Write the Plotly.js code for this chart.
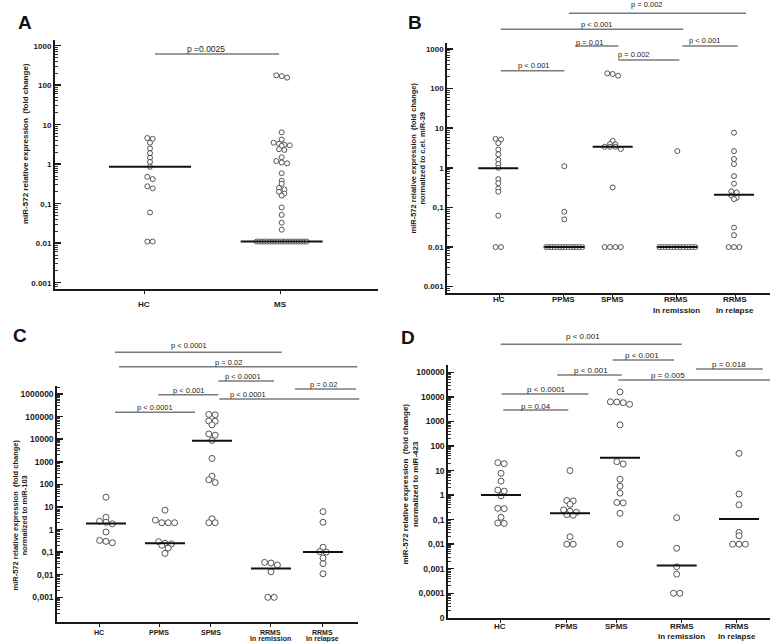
<!DOCTYPE html>
<html>
<head>
<meta charset="utf-8">
<script src="https://cdn.plot.ly/plotly-3.0.1.min.js"></script>
<style>
  html, body { margin: 0; padding: 0; background: #fff; }
  #chart { width: 778px; height: 642px; }
</style>
</head>
<body>
<div id="chart"></div>
<script>
// ---- data ----
const groupsA = ['HC', 'MS'];
const groups5 = ['HC', 'PPMS', 'SPMS', 'RRMS<br>In remission', 'RRMS<br>In relapse'];

const ticksAB = [1000, 100, 10, 1, 0.1, 0.01, 0.001];
const tickTextAB = ['1000', '100', '10', '1', '0,1', '0.01', '0.001'];
const ticksC = [1000000, 100000, 10000, 1000, 100, 10, 1, 0.1, 0.01, 0.001];
const tickTextC = ['1000000', '100000', '10000', '1000', '100', '10', '1', '0,1', '0,01', '0,001'];
const ticksD = [100000, 10000, 1000, 100, 10, 1, 0.1, 0.01, 0.001, 0.0001, 0.00001];
const tickTextD = ['100000', '10000', '1000', '100', '10', '1', '0,1', '0,01', '0,001', '0,0001', '0'];

// panel A
const A_HC = [4.6, 4.4, 3.5, 2.5, 1.9, 1.45, 1.14, 0.86, 0.48, 0.42, 0.275, 0.245, 0.06, 0.011, 0.011];
const A_MS = [178, 170, 155, 6.4, 4.2, 3.5, 3.3, 3.1, 3.0, 2.9, 2.4, 2.3, 1.5, 1.2, 1.1, 1.05,
  0.59, 0.38, 0.32, 0.25, 0.23, 0.2, 0.18, 0.16, 0.08, 0.052, 0.033, 0.022,
  0.011, 0.011, 0.011, 0.011, 0.011, 0.011, 0.011, 0.011, 0.011, 0.011,
  0.011, 0.011, 0.011, 0.011, 0.011, 0.011, 0.011, 0.011, 0.011, 0.011];
const mediansA = [0.86, 0.011];
const pA = ['p =0.0025'];

// panel B
const B_HC = [5.4, 5.2, 4.2, 2.9, 2.2, 1.6, 1.25, 1.0, 0.52, 0.41, 0.3, 0.25, 0.062, 0.01, 0.01];
const B_PPMS = [1.1, 0.078, 0.05, 0.01, 0.01, 0.01, 0.01, 0.01, 0.01, 0.01, 0.01, 0.01, 0.01, 0.01, 0.01, 0.01, 0.01];
const B_SPMS = [243, 234, 212, 4.8, 4.0, 3.9, 3.4, 3.4, 3.4, 3.0, 0.32, 0.01, 0.01, 0.01, 0.01];
const B_REM = [2.65, 0.01, 0.01, 0.01, 0.01, 0.01, 0.01, 0.01, 0.01, 0.01, 0.01, 0.01, 0.01, 0.01];
const B_REL = [7.7, 2.65, 1.67, 1.25, 0.62, 0.4, 0.255, 0.24, 0.2, 0.175, 0.163, 0.031, 0.02, 0.01, 0.01, 0.01];
const mediansB = [0.97, 0.01, 3.4, 0.01, 0.21];
const pB = ['p = 0.002', 'p < 0.001', 'p = 0.01', 'p < 0.001', 'p = 0.002', 'p < 0.001'];

// panel C
const C_HC = [27, 3.5, 2.3, 2.1, 1.8, 0.78, 0.33, 0.3, 0.26];
const C_PPMS = [7.2, 2.6, 2.0, 2.0, 2.0, 0.29, 0.245, 0.23, 0.2, 0.15, 0.088];
const C_SPMS = [125000, 120000, 64000, 62000, 43000, 17000, 15000, 8800, 1400, 230, 160, 120, 3.0, 2.0, 2.0];
const C_REM = [0.035, 0.033, 0.027, 0.0135, 0.001, 0.001];
const C_REL = [6.2, 2.1, 0.165, 0.105, 0.1, 0.055, 0.031, 0.011];
const mediansC = [1.87, 0.245, 8500, 0.019, 0.1];
const pC = ['p < 0.0001', 'p = 0.02', 'p < 0.0001', 'p = 0.02', 'p < 0.001', 'p < 0.0001', 'p < 0.0001'];

// panel D
const D_HC = [21, 19, 7.7, 3.7, 1.6, 1.45, 0.93, 0.29, 0.28, 0.125, 0.073, 0.07];
const D_PPMS = [10, 0.6, 0.58, 0.42, 0.25, 0.22, 0.2, 0.16, 0.15, 0.02, 0.01, 0.01];
const D_SPMS = [16000, 6300, 6200, 5800, 5000, 720, 23, 18.5, 4.4, 2.3, 1.2, 0.5, 0.48, 0.18, 0.01];
const D_REM = [0.12, 0.0068, 0.0012, 0.0006, 0.0001, 0.0001];
const D_REL = [50, 1.1, 0.4, 0.03, 0.022, 0.01, 0.01, 0.01];
const mediansD = [1.0, 0.18, 33, 0.00135, 0.107];
const pD = ['p < 0.001', 'p < 0.001', 'p = 0.018', 'p < 0.001', 'p = 0.005', 'p < 0.0001', 'p = 0.04'];

const yTitle = 'miR-572 relative expression  (fold change)';

// ---- layout (pixel positions in the 778x642 frame) ----
const W = 778, H = 642;
const PX = p => p / W;
const PY = p => (H - p) / H;
const FONT = 'Liberation Sans, Arial, sans-serif';

const panels = [
  { letter: 'A', lx: 25, ly: 23, left: 55, right: 378, top: 40, bottom: 289.3, range: [-3.167, 3.144],
    groups: groupsA, series: [A_HC, A_MS], medians: mediansA, centers: [150, 281.7], labelX: [144, 280.7],
    labelY: [304, 315], labelSize: 8, half: 41, size: 5, rowMax: 50, ticks: ticksAB, tickText: tickTextAB, tickSize: 8,
    title: yTitle, tx: 25, ty: 144, titleSize: 8, pText: pA, pSize: 8.5,
    brackets: [[155, 279, 54, 206, 49]] },
  { letter: 'B', lx: 415, ly: 23, left: 447.3, right: 770, top: 43.3, bottom: 293.3, range: [-3.167, 3.144],
    groups: groups5, series: [B_HC, B_PPMS, B_SPMS, B_REM, B_REL], medians: mediansB,
    centers: [498.3, 564.3, 612.7, 677.3, 734], labelX: [499, 563.3, 612.7, 676, 735],
    labelY: [299, 310], labelSize: 8, half: 20, size: 5, rowMax: 36, ticks: ticksAB, tickText: tickTextAB, tickSize: 8,
    title: yTitle + '<br>normalized to c.el. miR-39', tx: 417.5, ty: 158, titleSize: 7.5, pText: pB, pSize: 7.5,
    brackets: [[569, 746, 13.3, 647.3, 4.7], [500.7, 683.3, 29.3, 596.7, 24.3], [575, 618.3, 46, 589.3, 42],
               [682.3, 737.7, 46, 705, 41], [618.3, 679.3, 60, 634.3, 54.3], [500.7, 564.3, 70.7, 534.3, 65.7]] },
  { letter: 'C', lx: 20, ly: 335, left: 57.3, right: 358.3, top: 386, bottom: 621.7, range: [-4.08, 6.354],
    groups: groups5, series: [C_HC, C_PPMS, C_SPMS, C_REM, C_REL], medians: mediansC,
    centers: [106, 165, 212, 271, 323], labelX: [99.3, 159, 210.7, 270, 322.7],
    labelY: [632.5, 638.8], labelSize: 7, half: 20, size: 6, rowMax: 36, ticks: ticksC, tickText: tickTextC, tickSize: 8.5,
    title: yTitle + '<br>normalized to miR-103', tx: 19.5, ty: 515, titleSize: 7.5, pText: pC, pSize: 7.5,
    brackets: [[115, 281.7, 352.3, 189.3, 345], [119, 357.3, 366.7, 228.3, 362.3], [218.3, 274, 381, 242.7, 376.7],
               [295, 356, 389, 323.3, 384.3], [158.3, 218.3, 394.7, 189.3, 390], [219.3, 359.3, 399, 248.3, 394],
               [115, 195, 412.3, 155, 407.7]] },
  { letter: 'D', lx: 408, ly: 337, left: 448.3, right: 770, top: 365, bottom: 618.3, range: [-5.02, 5.3],
    groups: groups5, series: [D_HC, D_PPMS, D_SPMS, D_REM, D_REL], medians: mediansD,
    centers: [501, 570, 620, 676.7, 739], labelX: [500, 566.7, 616.7, 681.7, 736.7],
    labelY: [626, 636], labelSize: 8, half: 20, size: 6, rowMax: 36, ticks: ticksD, tickText: tickTextD, tickSize: 8.5,
    title: yTitle + '<br>normalized to miR-423', tx: 409.5, ty: 484, titleSize: 8, pText: pD, pSize: 8,
    brackets: [[500.7, 681.7, 344.3, 582.7, 336], [612.7, 674, 360, 642.3, 355], [696, 762.7, 369, 729, 364],
               [557.3, 621.7, 375, 590.7, 370.7], [618.3, 770, 380, 668.3, 375], [501.7, 588.3, 394, 546.7, 389.3],
               [503.3, 568.3, 410, 535.7, 406]] }
];

// Prism-like column scatter: values that land on the same pixel row sit side by side
function swarm(values, center, p) {
  const d = p.size + 0.4;
  const toPx = v => p.bottom - (Math.log10(v) - p.range[0]) / (p.range[1] - p.range[0]) * (p.bottom - p.top);
  const order = values.map((v, i) => i).sort((a, b) => values[b] - values[a]);
  const xs = new Array(values.length);
  let row = [], rowY = null;
  const flush = () => {
    const n = row.length;
    const s = n > 1 ? Math.min(d, p.rowMax / (n - 1)) : 0;
    row.forEach((i, k) => { xs[i] = center + (k - (n - 1) / 2) * s; });
    row = [];
  };
  order.forEach(i => {
    const y = toPx(values[i]);
    if (rowY === null || Math.abs(y - rowY) > 0.5 * d) { flush(); rowY = y; }
    row.push(i);
  });
  flush();
  return xs;
}

function minorTicks(range) {
  const out = [];
  for (let k = Math.floor(range[0]); k <= Math.ceil(range[1]); k++) {
    for (let m = 2; m <= 9; m++) {
      const v = m * Math.pow(10, k);
      const l = Math.log10(v);
      if (l > range[0] && l < range[1]) out.push(v);
    }
  }
  return out;
}

const traces = [];
const layout = {
  width: W, height: H,
  margin: { l: 0, r: 0, t: 0, b: 0 },
  paper_bgcolor: '#fff', plot_bgcolor: 'rgba(0,0,0,0)',
  showlegend: false,
  font: { family: FONT, color: '#1a1a1a' },
  annotations: [], shapes: []
};

panels.forEach((p, n) => {
  const i = n + 1;
  const xa = 'x' + i, ya = 'y' + i;
  const sfx = i === 1 ? '' : String(i);

  layout['xaxis' + sfx] = {
    domain: [PX(p.left), PX(p.right)], range: [p.left, p.right], anchor: ya,
    showline: true, linewidth: 2, linecolor: '#1a1a1a',
    tickmode: 'array', tickvals: p.labelX, ticks: 'outside', ticklen: 3, tickwidth: 1, tickcolor: '#1a1a1a',
    showticklabels: false, showgrid: false, zeroline: false, fixedrange: true
  };
  layout['yaxis' + sfx] = {
    type: 'log', domain: [PY(p.bottom), PY(p.top)], range: p.range, anchor: xa,
    showline: true, linewidth: 2, linecolor: '#1a1a1a',
    tickmode: 'array', tickvals: p.ticks, ticktext: p.tickText,
    ticks: 'inside', ticklen: 6, tickwidth: 1.5, tickcolor: '#1a1a1a', ticklabelstandoff: 0,
    tickfont: { family: FONT, size: p.tickSize, color: '#1a1a1a', weight: 'bold' },
    minor: { tickmode: 'array', tickvals: minorTicks(p.range), ticks: 'inside', ticklen: 3, tickwidth: 1,
             tickcolor: '#333', showgrid: false },
    showgrid: false, zeroline: false, fixedrange: true
  };

  // points
  p.series.forEach((vals, g) => {
    traces.push({
      type: 'scatter', mode: 'markers', xaxis: xa, yaxis: ya,
      x: swarm(vals, p.centers[g], p), y: vals, cliponaxis: false, hoverinfo: 'y',
      marker: { symbol: 'circle', size: p.size, color: '#fff', line: { color: '#555', width: 1 } }
    });
  });
  // median lines
  p.medians.forEach((m, g) => {
    traces.push({
      type: 'scatter', mode: 'lines', xaxis: xa, yaxis: ya,
      x: [p.centers[g] - p.half, p.centers[g] + p.half], y: [m, m],
      line: { color: '#111', width: 2 }, hoverinfo: 'skip'
    });
  });

  // category labels
  p.groups.forEach((name, g) => {
    name.split('<br>').forEach((line, r) => {
      layout.annotations.push({
        xref: 'paper', yref: 'paper', x: PX(p.labelX[g]), y: PY(p.labelY[r]),
        xanchor: 'center', yanchor: 'middle', showarrow: false, text: line,
        font: { family: FONT, size: p.labelSize, color: '#1a1a1a', weight: 'bold' }
      });
    });
  });

  // panel letter
  layout.annotations.push({
    xref: 'paper', yref: 'paper', x: PX(p.lx), y: PY(p.ly), xanchor: 'center', yanchor: 'middle',
    showarrow: false, text: p.letter, font: { family: FONT, size: 19, color: '#111', weight: 'bold' }
  });
  // y title
  layout.annotations.push({
    xref: 'paper', yref: 'paper', x: PX(p.tx), y: PY(p.ty), xanchor: 'center', yanchor: 'middle',
    showarrow: false, textangle: -90, text: p.title,
    font: { family: FONT, size: p.titleSize, color: '#1a1a1a', weight: 'bold' }
  });

  // significance brackets
  p.brackets.forEach((b, k) => {
    layout.shapes.push({
      type: 'line', xref: 'paper', yref: 'paper',
      x0: PX(b[0]), x1: PX(b[1]), y0: PY(b[2]), y1: PY(b[2]),
      line: { color: '#7a7a7a', width: 1.5 }
    });
    layout.annotations.push({
      xref: 'paper', yref: 'paper', x: PX(b[3]), y: PY(b[4]), xanchor: 'center', yanchor: 'middle',
      showarrow: false, text: p.pText[k], font: { family: FONT, size: p.pSize, color: '#1a1a1a' }
    });
  });
});

Plotly.newPlot('chart', traces, layout, { staticPlot: true });
</script>
</body>
</html>
